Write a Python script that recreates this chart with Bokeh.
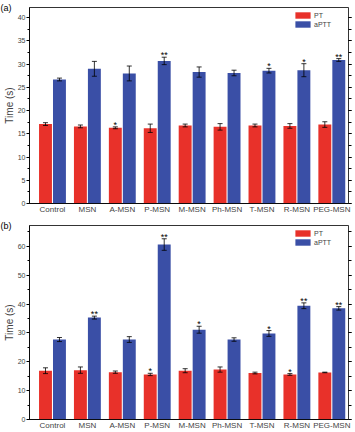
import numpy as np
from bokeh.plotting import figure
from bokeh.models import (ColumnDataSource, Range1d, FixedTicker, LinearAxis, Whisker,
                          TeeHead, Legend, LegendItem, SingleIntervalTicker)
from bokeh.layouts import column
from bokeh.embed import file_html
from bokeh.resources import INLINE
from bokeh.core.properties import value

cats = ["Control", "MSN", "A-MSN", "P-MSN", "M-MSN", "Ph-MSN", "T-MSN", "R-MSN", "PEG-MSN"]

a_pt = [17.1, 16.6, 16.3, 16.2, 16.8, 16.5, 16.8, 16.7, 17.0]
a_pt_err = [0.3, 0.3, 0.2, 0.9, 0.3, 0.7, 0.3, 0.5, 0.6]
a_aptt = [26.7, 29.0, 28.0, 30.7, 28.3, 28.1, 28.6, 28.7, 30.9]
a_aptt_err = [0.3, 1.6, 1.6, 0.8, 1.1, 0.6, 0.5, 1.4, 0.3]
a_sig_pt = ["", "", "*", "", "", "", "", "", ""]
a_sig_aptt = ["", "", "", "**", "", "", "*", "*", "**"]

b_pt = [16.9, 17.1, 16.4, 15.6, 16.9, 17.3, 16.1, 15.6, 16.3]
b_pt_err = [1.0, 1.1, 0.4, 0.4, 0.7, 0.9, 0.3, 0.3, 0.1]
b_aptt = [27.7, 35.3, 27.7, 60.6, 31.1, 27.7, 29.8, 39.4, 38.5]
b_aptt_err = [0.7, 0.5, 1.0, 2.0, 1.2, 0.6, 1.0, 1.0, 0.6]
b_sig_pt = ["", "", "", "*", "", "", "", "*", ""]
b_sig_aptt = ["", "**", "", "**", "*", "", "*", "**", "**"]

RED = "#e8312a"
BLUE = "#3a4fa6"
FONT = "Liberation Sans"


def panel(tag, pt, pt_err, aptt, aptt_err, sig_pt, sig_aptt, ymax, major, top_border, bottom_border, frame_h):
    xs = np.arange(len(cats))
    off = 0.2
    p = figure(width=355, height=top_border + frame_h + bottom_border,
               x_range=Range1d(-0.658, 8.478), y_range=Range1d(0, ymax),
               output_backend="svg", toolbar_location=None, tools="",
               min_border_left=29, min_border_right=7, min_border_top=top_border,
               min_border_bottom=bottom_border)
    renderers = []
    for vals, errs, sig, dx, col in ((pt, pt_err, sig_pt, -off, RED), (aptt, aptt_err, sig_aptt, off, BLUE)):
        v = np.array(vals)
        e = np.array(errs)
        src = ColumnDataSource(dict(x=xs + dx, top=v, upper=v + e, lower=v - e))
        r = p.vbar(x="x", top="top", width=0.37, source=src, color=col, line_color=None)
        renderers.append(r)
        w = Whisker(source=src, base="x", upper="upper", lower="lower", line_color="black",
                    line_width=0.8,
                    upper_head=TeeHead(size=5, line_color="black", line_width=0.8),
                    lower_head=TeeHead(size=5, line_color="black", line_width=0.8))
        w.level = "annotation"
        p.add_layout(w)
        idx = [i for i, s in enumerate(sig) if s]
        ssrc = ColumnDataSource(dict(x=[xs[i] + dx for i in idx], y=[v[i] + e[i] for i in idx],
                                     sig=[sig[i] for i in idx]))
        p.text(x="x", y="y", text="sig", source=ssrc, text_align="center",
               text_baseline="alphabetic", y_offset=-2, text_font=value(FONT),
               text_font_size="9px", text_color="black")

    p.xgrid.visible = False
    p.ygrid.visible = False
    p.outline_line_color = "black"
    p.outline_line_width = 0.8

    xa = p.xaxis[0]
    xa.ticker = FixedTicker(ticks=list(xs))
    xa.major_label_overrides = {int(i): c for i, c in zip(xs, cats)}
    xa.major_tick_line_color = None
    xa.minor_tick_line_color = None
    xa.major_tick_out = 0
    xa.major_tick_in = 0
    xa.minor_tick_out = 0
    xa.minor_tick_in = 0
    xa.major_label_standoff = 1
    xa.major_label_text_font = FONT
    xa.major_label_text_font_size = "8px"
    xa.axis_line_color = "black"
    xa.axis_line_width = 0.8

    ya = p.yaxis[0]
    ya.ticker = SingleIntervalTicker(interval=major, num_minor_ticks=2)
    ya.major_tick_out = 3
    ya.major_tick_in = 0
    ya.minor_tick_out = 2
    ya.minor_tick_in = 0
    ya.major_label_standoff = 1
    ya.major_label_text_font = FONT
    ya.major_label_text_font_size = "7px"
    ya.axis_label = "Time (s)"
    ya.axis_label_text_font = FONT
    ya.axis_label_text_font_style = "normal"
    ya.axis_label_text_font_size = "10px"
    ya.axis_label_standoff = 0
    ya.axis_line_width = 0.8

    ra = LinearAxis(ticker=SingleIntervalTicker(interval=major, num_minor_ticks=2))
    ra.major_label_text_font_size = "1px"
    ra.major_label_text_color = None
    ra.major_label_standoff = 0
    ra.major_tick_out = 3
    ra.major_tick_in = 0
    ra.minor_tick_out = 3
    ra.minor_tick_in = 0
    ra.axis_line_color = None
    p.add_layout(ra, "right")

    leg = Legend(items=[LegendItem(label="PT", renderers=[renderers[0]]),
                        LegendItem(label="aPTT", renderers=[renderers[1]])],
                 location="top_right")
    leg.glyph_width = 19
    leg.glyph_height = 8
    leg.label_height = 8
    leg.label_width = 30
    leg.spacing = 1
    leg.padding = 0
    leg.margin = 4
    leg.label_standoff = 2
    leg.border_line_color = None
    leg.background_fill_alpha = 0
    leg.label_text_font = FONT
    leg.label_text_font_size = "7px"
    p.add_layout(leg)

    p.title.text = tag
    p.title.align = "left"
    p.title.offset = -29
    p.title.standoff = -10
    p.title.vertical_align = "bottom"
    p.title.text_font = FONT
    p.title.text_font_style = "normal"
    p.title.text_font_size = "9px"
    p.title.text_color = "black"
    return p


pa = panel("(a)", a_pt, a_pt_err, a_aptt, a_aptt_err, a_sig_pt, a_sig_aptt, 42.2, 5, 7, 11, 198)
pb = panel("(b)", b_pt, b_pt_err, b_aptt, b_aptt_err, b_sig_pt, b_sig_aptt, 67.2, 10, 9, 11, 196)

layout = column(pa, pb, spacing=0)
open("out.html", "w").write(file_html(layout, INLINE))
